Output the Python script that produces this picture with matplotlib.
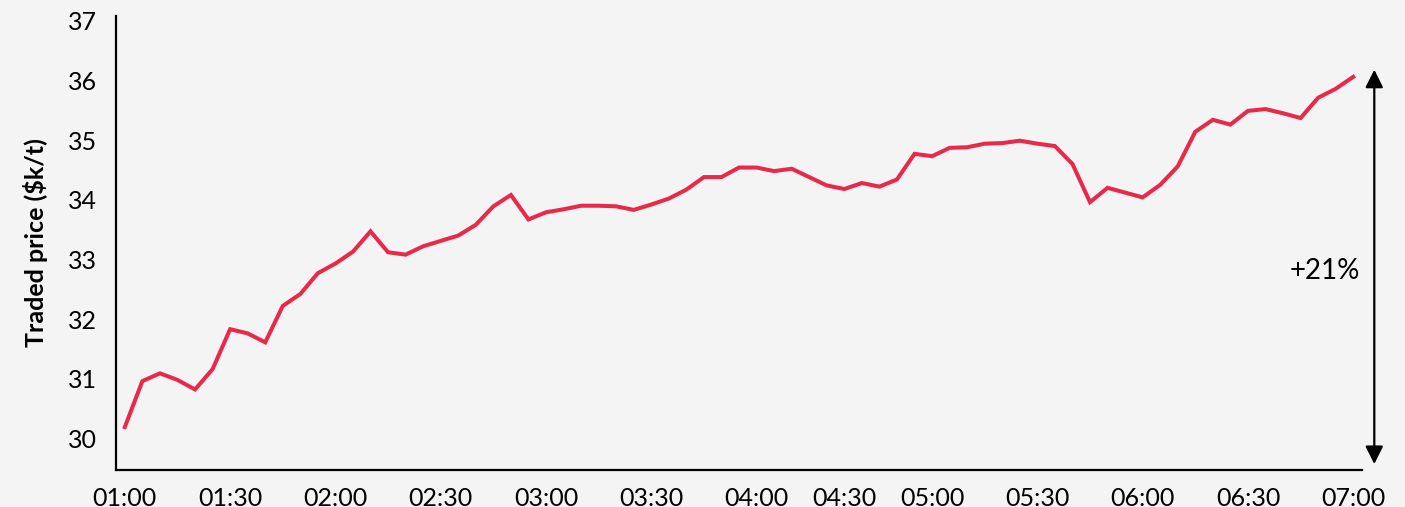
import matplotlib
matplotlib.use("Agg")
import matplotlib.pyplot as plt

# ── data (5-min traded prices, $k/t) ───────────────────────────────────────
price = [
    30.19, 30.96, 31.09, 30.98, 30.82, 31.16, 31.83, 31.76, 31.61, 32.22,
    32.42, 32.77, 32.93, 33.13, 33.47, 33.12, 33.08, 33.22, 33.31, 33.40,
    33.58, 33.89, 34.08, 33.67, 33.79, 33.84, 33.90, 33.90, 33.89, 33.83,
    33.92, 34.02, 34.17, 34.38, 34.38, 34.54, 34.54, 34.48, 34.52, 34.38,
    34.24, 34.18, 34.28, 34.22, 34.34, 34.77, 34.73, 34.87, 34.88, 34.94,
    34.95, 34.99, 34.94, 34.90, 34.60, 33.96, 34.20, 34.12, 34.04, 34.25,
    34.56, 35.14, 35.34, 35.26, 35.49, 35.52, 35.45, 35.37, 35.71, 35.86,
    36.06,
]
tick_idx = [0, 6, 12, 18, 24, 30, 36, 41, 46, 52, 58, 64, 70]
tick_labels = ["01:00", "01:30", "02:00", "02:30", "03:00", "03:30", "04:00",
               "04:30", "05:00", "05:30", "06:00", "06:30", "07:00"]
change_label = "+21%"

BG = "#F4F4F4"
RED = "#E8294A"

plt.rcParams["font.family"] = ["Lato", "DejaVu Sans"]

fig = plt.figure(figsize=(14.05, 5.07), dpi=100, facecolor=BG)
ax = fig.add_axes([0.0826, 0.0730, 0.8868, 0.8954], facecolor=BG)

x = list(range(len(price)))
ax.plot(x, price, color=RED, lw=2.9, solid_joinstyle="miter")

ax.set_xlim(-0.5, len(price) - 0.5)
ax.set_ylim(29.47, 37.08)
ax.set_yticks(range(30, 38))
ax.set_xticks(tick_idx)
ax.set_xticklabels(tick_labels)
ax.tick_params(axis="both", length=0, labelsize=18, colors="black")
ax.tick_params(axis="y", pad=14)
ax.tick_params(axis="x", pad=12)

for s in ("top", "right"):
    ax.spines[s].set_visible(False)
for s in ("left", "bottom"):
    ax.spines[s].set_linewidth(1.6)
    ax.spines[s].set_color("black")

ax.set_ylabel("Traded price ($k/t)", fontsize=18, fontweight="bold", labelpad=14)

# change arrow
ax.annotate("", xy=(71.2, 36.18), xytext=(71.2, 29.57),
            annotation_clip=False,
            arrowprops=dict(arrowstyle="<|-|>,head_length=0.6,head_width=0.3",
                            mutation_scale=18, lw=1.6, color="black",
                            shrinkA=0, shrinkB=0))
ax.text(68.4, 32.8, change_label, fontsize=20, ha="center", va="center")

fig.savefig("out.png", dpi=100, facecolor=BG)
